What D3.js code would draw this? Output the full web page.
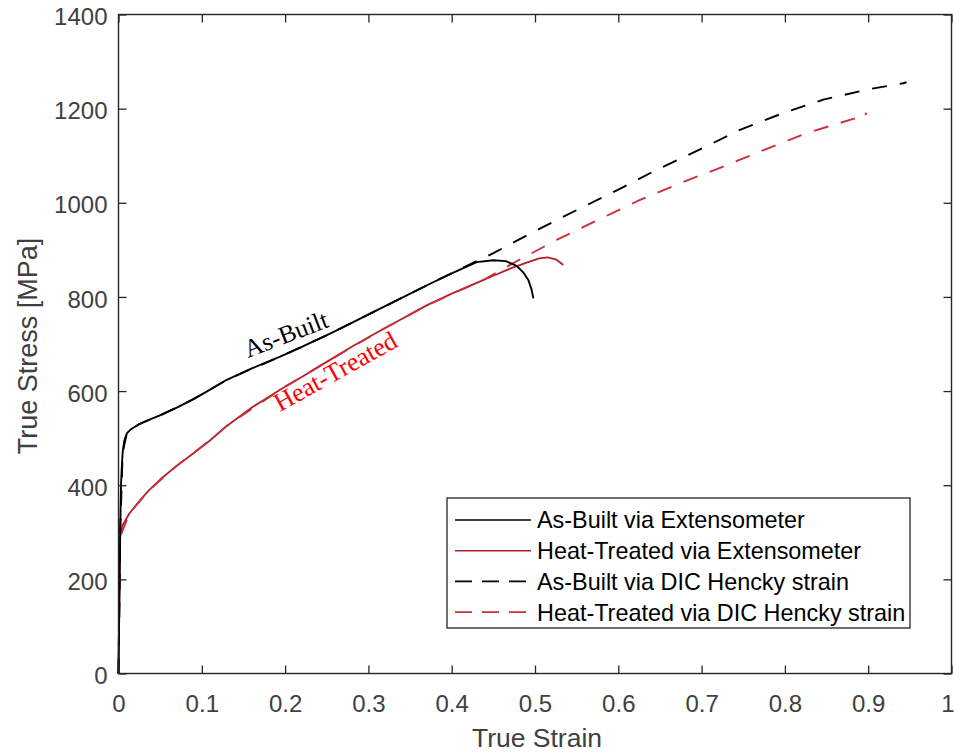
<!DOCTYPE html>
<html>
<head>
<meta charset="utf-8">
<script src="https://cdn.jsdelivr.net/npm/d3@7"></script>
<style>
  html, body { margin: 0; padding: 0; background: #fff; }
  svg { display: block; }
</style>
</head>
<body>
<svg id="chart" width="954" height="754"></svg>
<script>
// Tick values
const xTicks = [0, 0.1, 0.2, 0.3, 0.4, 0.5, 0.6, 0.7, 0.8, 0.9, 1];
const yTicks = [0, 200, 400, 600, 800, 1000, 1200, 1400];

// As-Built via Extensometer
const abExtStrain = [0, 0.001, 0.002, 0.003, 0.004, 0.005, 0.007, 0.01, 0.015, 0.025, 0.035, 0.049, 0.07, 0.09, 0.11, 0.13, 0.16, 0.194, 0.22, 0.254, 0.28, 0.314, 0.34, 0.374, 0.4, 0.43, 0.45, 0.465, 0.478, 0.486, 0.492, 0.496, 0.498];
const abExtStress = [0, 150, 300, 400, 440, 470, 495, 510, 519, 530, 538, 548, 565, 583, 603, 624, 648, 673, 694, 722, 745, 775, 798, 828, 850, 874, 878, 876, 866, 852, 836, 815, 797];

// Heat-Treated via Extensometer
const htExtStrain = [0, 0.001, 0.002, 0.005, 0.013, 0.025, 0.037, 0.05, 0.069, 0.09, 0.109, 0.13, 0.16, 0.194, 0.22, 0.25, 0.28, 0.314, 0.34, 0.37, 0.4, 0.43, 0.45, 0.47, 0.49, 0.505, 0.515, 0.525, 0.534];
const htExtStress = [0, 150, 290, 315, 340, 366, 390, 412, 440, 468, 494, 526, 565, 603, 630, 662, 694, 728, 753, 782, 807, 830, 845, 860, 873, 882, 884, 880, 868];

// As-Built via DIC Hencky strain
const abDicStrain = [0, 0.002, 0.005, 0.01, 0.025, 0.05, 0.09, 0.13, 0.194, 0.254, 0.314, 0.374, 0.43, 0.45, 0.5, 0.546, 0.6, 0.646, 0.7, 0.746, 0.8, 0.846, 0.9, 0.942, 0.946];
const abDicStress = [0, 300, 470, 510, 530, 548, 583, 624, 673, 722, 775, 828, 876, 893, 940, 981, 1028, 1070, 1115, 1155, 1192, 1219, 1241, 1254, 1256];

// Heat-Treated via DIC Hencky strain
const htDicStrain = [0, 0.002, 0.013, 0.037, 0.069, 0.109, 0.13, 0.194, 0.25, 0.314, 0.37, 0.43, 0.44, 0.48, 0.526, 0.576, 0.626, 0.676, 0.726, 0.776, 0.826, 0.878, 0.889, 0.893, 0.898];
const htDicStress = [0, 290, 340, 390, 440, 494, 526, 603, 662, 728, 782, 830, 838, 878, 921, 964, 1006, 1043, 1077, 1113, 1148, 1176, 1182, 1178, 1191];

const seriesNames = [
  "As-Built via Extensometer",
  "Heat-Treated via Extensometer",
  "As-Built via DIC Hencky strain",
  "Heat-Treated via DIC Hencky strain"
];

const BLACK = "#000000";
const DARKRED = "#b3202c";
const DASHRED = "#c8303a";

const series = [
  { name: seriesNames[1], xs: htExtStrain, ys: htExtStress, color: DARKRED, dash: null, width: 1.8 },
  { name: seriesNames[3], xs: htDicStrain, ys: htDicStress, color: DASHRED, dash: "15,13", width: 1.9 },
  { name: seriesNames[0], xs: abExtStrain, ys: abExtStress, color: BLACK, dash: null, width: 1.9 },
  { name: seriesNames[2], xs: abDicStrain, ys: abDicStress, color: BLACK, dash: "15,13", width: 1.9 }
];

const svg = d3.select("#chart");
const plotLeft = 118.5, plotRight = 951.5, plotTop = 14.5, plotBottom = 673.5;

const x = d3.scaleLinear().domain([0, 1]).range([plotLeft, plotRight]);
const y = d3.scaleLinear().domain([0, 1400]).range([plotBottom, plotTop]);

const tickColor = "#404040";
const fontSans = "'Liberation Sans', Arial, Helvetica, sans-serif";
const fontSerif = "'Liberation Serif', 'Times New Roman', serif";

// Curves
const line = d3.line().x(d => x(d[0])).y(d => y(d[1])).curve(d3.curveLinear);
const plot = svg.append("g");
series.forEach(s => {
  const pts = s.xs.map((v, i) => [v, s.ys[i]]);
  plot.append("path")
    .attr("d", line(pts))
    .attr("fill", "none")
    .attr("stroke", s.color)
    .attr("stroke-width", s.width)
    .attr("stroke-linejoin", "round")
    .attr("stroke-dasharray", s.dash);
});

// Axes with inward ticks on all four sides
const tickLen = 8;
const axBottom = d3.axisBottom(x).tickValues(xTicks).tickSize(-tickLen).tickPadding(21)
  .tickFormat(d => String(d));
const axTop = d3.axisTop(x).tickValues(xTicks).tickSize(-tickLen).tickFormat("");
const axLeft = d3.axisLeft(y).tickValues(yTicks).tickSize(-tickLen).tickPadding(11)
  .tickFormat(d => String(d));
const axRight = d3.axisRight(y).tickValues(yTicks).tickSize(-tickLen).tickFormat("");

function styleAxis(g) {
  g.select(".domain").remove();
  g.selectAll(".tick line").attr("stroke", "#262626").attr("stroke-width", 1.3);
  g.selectAll(".tick text").attr("fill", tickColor).style("font-family", fontSans).style("font-size", "24px");
}
svg.append("g").attr("transform", `translate(0,${plotBottom})`).call(axBottom).call(styleAxis)
  .selectAll(".tick text").filter(d => d === 1).attr("dx", "-4");
svg.append("g").attr("transform", `translate(0,${plotTop})`).call(axTop).call(styleAxis);
svg.append("g").attr("transform", `translate(${plotLeft},0)`).call(axLeft).call(styleAxis)
  .selectAll(".tick text").attr("dy", "0.42em");
svg.append("g").attr("transform", `translate(${plotRight},0)`).call(axRight).call(styleAxis);

// Frame
svg.append("rect")
  .attr("x", plotLeft).attr("y", plotTop)
  .attr("width", plotRight - plotLeft).attr("height", plotBottom - plotTop)
  .attr("fill", "none").attr("stroke", "#262626").attr("stroke-width", 1.4);

// Axis titles
svg.append("text")
  .attr("x", (plotLeft + plotRight) / 2 + 2).attr("y", 747)
  .attr("text-anchor", "middle")
  .attr("fill", tickColor)
  .style("font-family", fontSans).style("font-size", "26.5px")
  .text("True Strain");
svg.append("text")
  .attr("transform", `translate(37,${(plotTop + plotBottom) / 2 + 2}) rotate(-90)`)
  .attr("text-anchor", "middle")
  .attr("fill", tickColor)
  .style("font-family", fontSans).style("font-size", "27px")
  .text("True Stress [MPa]");

// In-plot annotations
svg.append("text")
  .attr("transform", "translate(248,358) rotate(-21)")
  .attr("fill", "#000")
  .style("font-family", fontSerif).style("font-size", "25.5px")
  .text("As-Built");
svg.append("text")
  .attr("transform", "translate(280,412) rotate(-29)")
  .attr("fill", "#ff0000")
  .style("font-family", fontSerif).style("font-size", "26px")
  .text("Heat-Treated");

// Legend
const legendItems = [
  { name: seriesNames[0], color: BLACK, dash: null },
  { name: seriesNames[1], color: DARKRED, dash: null },
  { name: seriesNames[2], color: BLACK, dash: "17,10" },
  { name: seriesNames[3], color: DASHRED, dash: "17,10" }
];
const lg = svg.append("g");
lg.append("rect")
  .attr("x", 447).attr("y", 498)
  .attr("width", 463).attr("height", 130)
  .attr("fill", "#fff").attr("stroke", "#262626").attr("stroke-width", 1.3);
legendItems.forEach((it, i) => {
  const cy = 520 + i * 30.7;
  lg.append("line")
    .attr("x1", 455).attr("x2", 531).attr("y1", cy).attr("y2", cy)
    .attr("stroke", it.color).attr("stroke-width", 1.6)
    .attr("stroke-dasharray", it.dash);
  lg.append("text")
    .attr("x", 537).attr("y", cy)
    .attr("dy", "0.36em")
    .attr("fill", "#000")
    .style("font-family", fontSans).style("font-size", "23.4px")
    .text(it.name);
});
</script>
</body>
</html>
